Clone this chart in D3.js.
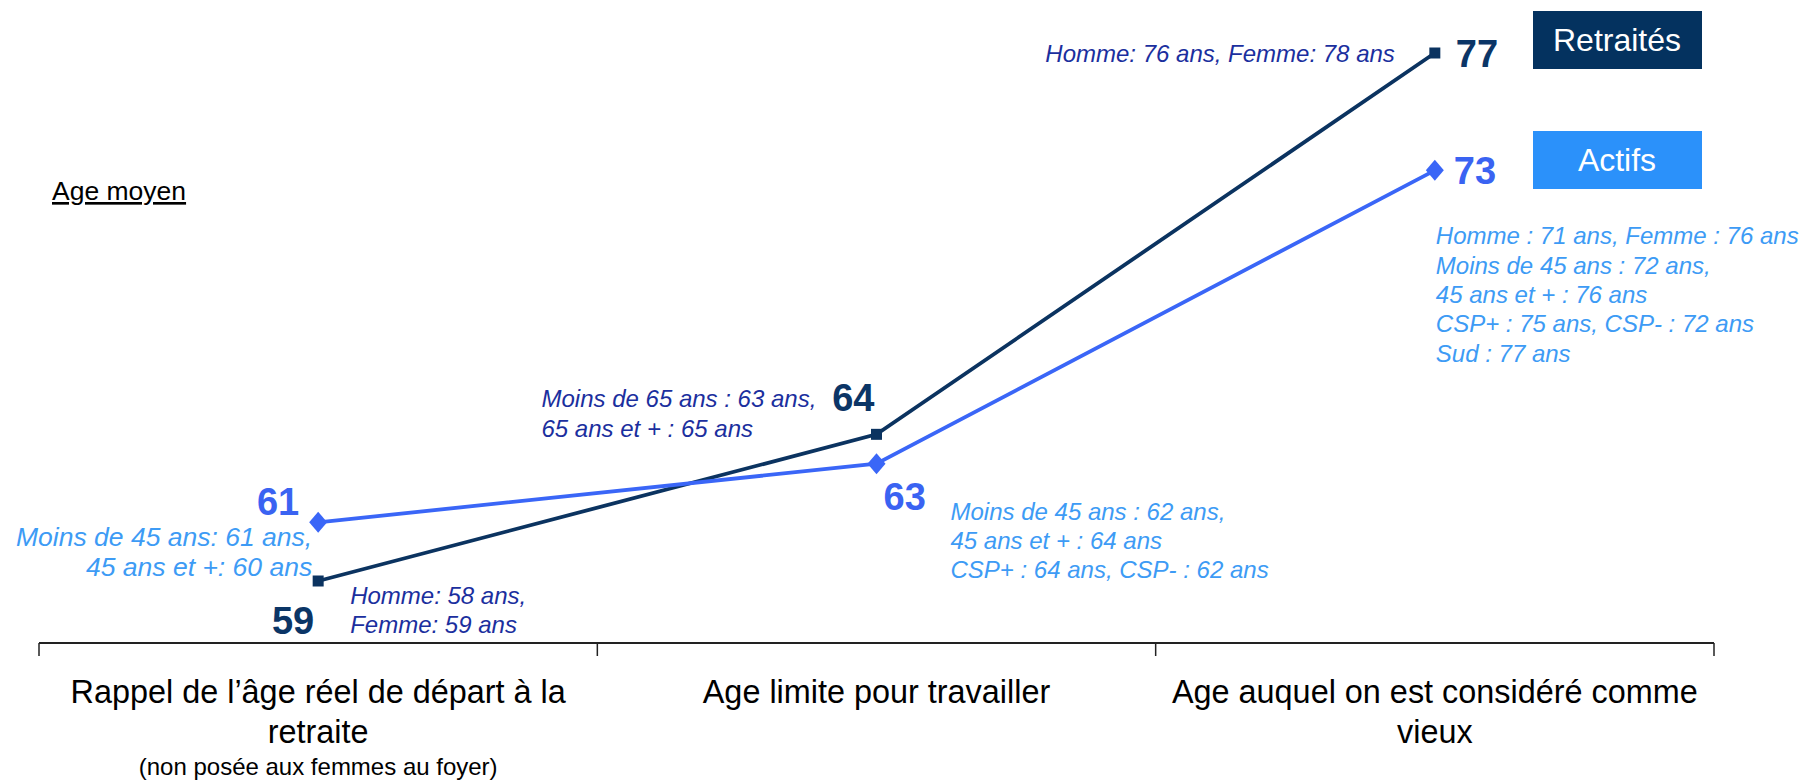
<!DOCTYPE html>
<html lang="fr">
<head>
    <meta charset="utf-8">
    <title>Age moyen</title>
    <style>
        body { margin: 0; background: #fff; }
        svg { font-family: "Liberation Sans", Arial, sans-serif; display: block; }
        .line { fill: none; stroke-width: 3.8px; }
        .note { font-style: italic; font-size: 24px; }
        .value { font-weight: bold; font-size: 38px; }
        .cat { font-size: 32.4px; fill: #000; }
    </style>
</head>
<body>

<script src="https://d3js.org/d3.v7.min.js"></script>

<script>
  // data
  const categories = ["rappel", "limite", "vieux"];
  const categoryLines = [
    ["Rappel de l\u2019\u00e2ge r\u00e9el de d\u00e9part \u00e0 la", "retraite"],
    ["Age limite pour travailler"],
    ["Age auquel on est consid\u00e9r\u00e9 comme", "vieux"]
  ];
  const categoryNote = "(non pos\u00e9e aux femmes au foyer)";
  const seriesNames = ["Retrait\u00e9s", "Actifs"];
  const retraites = [59, 64, 77];
  const actifs = [61, 63, 73];

  const notesRetraites = [
    ["Homme: 58 ans,", "Femme: 59 ans"],
    ["Moins de 65 ans : 63 ans,", "65 ans et + : 65 ans"],
    ["Homme: 76 ans, Femme: 78 ans"]
  ];
  const notesActifs = [
    ["Moins de 45 ans: 61 ans,", "45 ans et +: 60 ans"],
    ["Moins de 45 ans : 62 ans,", "45 ans et + : 64 ans", "CSP+ : 64 ans, CSP- : 62 ans"],
    ["Homme : 71 ans, Femme : 76 ans", "Moins de 45 ans : 72 ans,", "45 ans et + : 76 ans", "CSP+ : 75 ans, CSP- : 72 ans", "Sud : 77 ans"]
  ];

  const width = 1801, height = 781;

  const svg = d3.select("body").append("svg")
    .attr("width", width)
    .attr("height", height);

  const x = d3.scaleBand().domain(categories).range([39, 1714]).padding(0);
  const y = d3.scaleLinear().domain([59, 77]).range([581, 53]);
  const cx = c => x(c) + x.bandwidth() / 2;

  // series styles and label placement (offsets from the point)
  const series = [
    {
      name: seriesNames[0], values: retraites, notes: notesRetraites,
      line: "#0B3360", valueColor: "#0B3566", noteColor: "#1B2F9E", box: "#04325F",
      boxY: 11, marker: "square",
      valuePos: [{dx: -4, dy: 53, a: "end"}, {dx: -2, dy: -23, a: "end"}, {dx: 21, dy: 14, a: "start"}],
      notePos: [{dx: 32, dy: 23, a: "start"}, {dx: -335, dy: -27, a: "start"}, {dx: -40, dy: 9, a: "end"}]
    },
    {
      name: seriesNames[1], values: actifs, notes: notesActifs,
      line: "#3A66F7", valueColor: "#3A63F2", noteColor: "#3D9BF5", box: "#2B91FA",
      boxY: 131, marker: "diamond",
      valuePos: [{dx: -19, dy: -7, a: "end"}, {dx: 7, dy: 46, a: "start"}, {dx: 19, dy: 14, a: "start"}],
      notePos: [{dx: -6, dy: 24, a: "end", size: 26.5}, {dx: 74, dy: 56, a: "start"}, {dx: 1, dy: 74, a: "start"}]
    }
  ];

  // "Age moyen"
  svg.append("text")
    .attr("x", 52).attr("y", 200)
    .attr("font-size", 26.5)
    .attr("text-decoration", "underline")
    .text("Age moyen");

  // axis line with ticks at category boundaries
  const axisY = 643;
  svg.append("line")
    .attr("x1", x.range()[0]).attr("x2", x.range()[1])
    .attr("y1", axisY).attr("y2", axisY)
    .attr("stroke", "#222").attr("stroke-width", 2);

  const bounds = categories.map(c => x(c)).concat([x.range()[1]]);
  svg.selectAll("line.tick").data(bounds).enter().append("line")
    .attr("class", "tick")
    .attr("x1", d => d).attr("x2", d => d)
    .attr("y1", axisY).attr("y2", axisY + 13)
    .attr("stroke", "#222").attr("stroke-width", 1.5);

  // category labels
  categories.forEach(function(c, i) {
    const t = svg.append("text")
      .attr("class", "cat")
      .attr("text-anchor", "middle")
      .attr("x", cx(c)).attr("y", 703);
    categoryLines[i].forEach(function(l, j) {
      t.append("tspan").attr("x", cx(c)).attr("dy", j === 0 ? 0 : 40).text(l);
    });
    if (i === 0) {
      svg.append("text")
        .attr("text-anchor", "middle")
        .attr("x", cx(c)).attr("y", 775)
        .attr("font-size", 24)
        .text(categoryNote);
    }
  });

  const line = d3.line()
    .x((d, i) => cx(categories[i]))
    .y(d => y(d));

  series.forEach(function(s) {
    const g = svg.append("g");

    g.append("path")
      .attr("class", "line")
      .attr("stroke", s.line)
      .attr("d", line(s.values));

    // markers
    g.selectAll("path.mark").data(s.values).enter().append("path")
      .attr("class", "mark")
      .attr("fill", s.line)
      .attr("transform", (d, i) => "translate(" + cx(categories[i]) + "," + y(d) + ")")
      .attr("d", s.marker === "square"
        ? "M-5.5,-5.5H5.5V5.5H-5.5Z"
        : "M0,-10.5L9,0L0,10.5L-9,0Z");

    // values
    g.selectAll("text.value").data(s.values).enter().append("text")
      .attr("class", "value")
      .attr("fill", s.valueColor)
      .attr("text-anchor", (d, i) => s.valuePos[i].a)
      .attr("x", (d, i) => cx(categories[i]) + s.valuePos[i].dx)
      .attr("y", (d, i) => y(d) + s.valuePos[i].dy)
      .text(d => d);

    // notes
    s.notes.forEach(function(lines, i) {
      const p = s.notePos[i];
      const px = cx(categories[i]) + p.dx;
      const t = g.append("text")
        .attr("class", "note")
        .attr("fill", s.noteColor)
        .attr("text-anchor", p.a)
        .attr("x", px)
        .attr("y", y(s.values[i]) + p.dy);
      if (p.size) t.style("font-size", p.size + "px");
      lines.forEach(function(l, j) {
        t.append("tspan").attr("x", px).attr("dy", j === 0 ? 0 : 29.3).text(l);
      });
    });

    // legend box
    svg.append("rect")
      .attr("x", 1533).attr("y", s.boxY)
      .attr("width", 169).attr("height", 58)
      .attr("fill", s.box);
    svg.append("text")
      .attr("x", 1617).attr("y", s.boxY + 40)
      .attr("text-anchor", "middle")
      .attr("font-size", 32)
      .attr("fill", "#fff")
      .text(s.name);
  });
</script>

</body>
</html>
